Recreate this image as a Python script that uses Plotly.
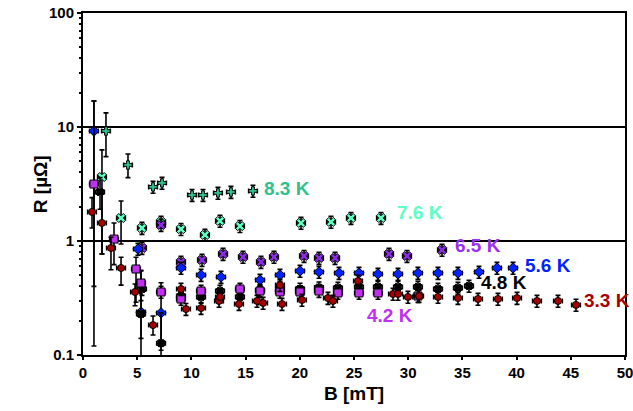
import math
import plotly.graph_objects as go

# ---- data (B in mT, R in micro-ohm) ----
B_33 = [0.83, 1.75, 2.58, 3.51, 4.80, 6.46, 9.04, 9.50, 10.89, 12.55, 12.64, 14.39, 16.05, 16.61, 18.17, 18.36,
        20.20, 22.60, 23.06, 25.37, 28.60, 29.06, 29.98, 31.00, 32.75, 34.59, 36.44, 38.28, 40.04, 41.88, 43.82, 45.48]
R_33 = [1.80, 1.44, 0.868, 0.580, 0.357, 0.183, 0.379, 0.253, 0.258, 0.298, 0.323, 0.280, 0.298, 0.286, 0.411, 0.280,
        0.304, 0.316, 0.298, 0.446, 0.343, 0.343, 0.323, 0.329, 0.323, 0.316, 0.310, 0.310, 0.316, 0.298, 0.298, 0.275]

B_42 = [1.01, 2.86, 4.89, 5.35, 7.20, 9.04, 10.89, 14.48, 16.33, 18.17, 20.02, 21.77, 23.52, 25.46, 27.21, 30.90]
R_42 = [3.16, 1.04, 0.568, 0.428, 0.357, 0.310, 0.364, 0.379, 0.364, 0.357, 0.357, 0.364, 0.350, 0.350, 0.350, 0.329]

B_48 = [1.57, 5.44, 5.35, 7.20, 9.04, 10.89, 12.64, 14.48, 16.33, 18.17, 20.02, 21.77, 23.52, 25.46, 27.21,
        29.06, 30.90, 32.75, 34.59, 35.61]
R_48 = [2.69, 0.379, 0.229, 0.127, 0.329, 0.323, 0.364, 0.323, 0.370, 0.380, 0.380, 0.390, 0.387, 0.395, 0.395,
        0.395, 0.395, 0.379, 0.387, 0.403]

B_56 = [1.01, 5.07, 5.35, 7.20, 9.04, 10.89, 12.73, 16.33, 18.17, 20.02, 21.77, 23.62, 25.46, 27.21, 29.06,
        30.90, 32.75, 34.59, 36.53, 38.19, 39.67]
R_56 = [9.22, 0.851, 0.238, 0.234, 0.580, 0.503, 0.483, 0.455, 0.503, 0.546, 0.535, 0.524, 0.524, 0.514, 0.514,
        0.524, 0.524, 0.524, 0.535, 0.580, 0.580]

B_65 = [5.44, 7.20, 9.04, 10.98, 12.92, 14.76, 16.42, 17.62, 20.39, 21.77, 23.25, 28.23, 29.89, 33.12]
R_65 = [0.868, 1.38, 0.654, 0.681, 0.769, 0.724, 0.654, 0.724, 0.738, 0.709, 0.709, 0.769, 0.738, 0.834]

B_76 = [1.75, 3.51, 5.44, 7.20, 9.04, 11.25, 12.64, 14.48, 20.11, 22.88, 24.72, 27.49]
R_76 = [3.64, 1.59, 1.30, 1.47, 1.27, 1.13, 1.50, 1.35, 1.44, 1.47, 1.59, 1.59]

B_83 = [2.12, 4.15, 6.46, 7.29, 10.06, 11.07, 12.45, 13.65, 15.68]
R_83 = [9.22, 4.64, 2.98, 3.23, 2.53, 2.53, 2.64, 2.69, 2.75]

X_TICKS = [0, 5, 10, 15, 20, 25, 30, 35, 40, 45, 50]
Y_TICKS = [0.1, 1, 10, 100]
Y_TICK_TEXT = ["0.1", "1", "10", "100"]
Y_MINOR = [m * d for d in (0.1, 1, 10) for m in range(2, 10)]

# error bars: default relative error, plus read-off overrides {index: (upper R, lower R)}
REL_ERR = 0.12
B_ERR = 0.4
over_33 = {0: (2.4, 1.3), 1: (2.7, 0.77), 2: (1.08, 0.56), 3: (0.72, 0.41), 4: (0.42, 0.27), 5: (0.22, 0.15)}
over_42 = {0: (16.9, 0.12), 1: (1.44, 0.62), 2: (0.72, 0.29), 3: (0.55, 0.30)}
over_48 = {0: (3.6, 1.9), 2: (0.37, 0.14), 3: (0.234, 0.09)}
over_56 = {0: (16.9, 0.40), 2: (0.55, 0.09), 3: (0.43, 0.11)}
over_76 = {0: (6.3, 0.77), 1: (2.24, 0.94)}
over_83 = {0: (13.3, 5.5), 1: (5.8, 3.6)}

series = [
    ("8.3 K", B_83, R_83, over_83, "cross", "#2fc08c", 7),
    ("7.6 K", B_76, R_76, over_76, "x", "#5dffc0", 8),
    ("6.5 K", B_65, R_65, {}, "x", "#8a2be2", 8),
    ("5.6 K", B_56, R_56, over_56, "diamond", "#0022ff", 8),
    ("4.8 K", B_48, R_48, over_48, "x", "#000000", 7),
    ("4.2 K", B_42, R_42, over_42, "square", "#c030f0", 8),
    ("3.3 K", B_33, R_33, over_33, "circle", "#aa0000", 7),
]

labels = [
    ("8.3 K", 18.8, 2.90, "#2fc08c"),
    ("7.6 K", 31.1, 1.79, "#5dffc0"),
    ("6.5 K", 36.4, 0.92, "#9b30f0"),
    ("5.6 K", 42.9, 0.615, "#0022ff"),
    ("4.8 K", 38.8, 0.436, "#000000"),
    ("3.3 K", 48.3, 0.298, "#aa0000"),
    ("4.2 K", 28.3, 0.220, "#c030f0"),
]

fig = go.Figure()
for name, bx, ry, over, sym, col, size in series:
    up, dn = [], []
    for i, r in enumerate(ry):
        if i in over:
            hi, lo = over[i]
            up.append(hi - r)
            dn.append(r - lo)
        else:
            up.append(r * REL_ERR)
            dn.append(r * REL_ERR)
    fig.add_trace(go.Scatter(
        x=bx, y=ry, mode="markers", name=name,
        marker=dict(symbol=sym, color=col, size=size, line=dict(color="black", width=1)),
        error_y=dict(type="data", symmetric=False, array=up, arrayminus=dn,
                     color="black", thickness=1.6, width=2.5),
        error_x=dict(type="constant", value=B_ERR, color="black", thickness=1.6, width=2.5),
        showlegend=False,
    ))

for txt, x, y, col in labels:
    fig.add_annotation(x=x, y=math.log10(y), text="<b>" + txt + "</b>", showarrow=False,
                       font=dict(size=19, color=col, family="Liberation Sans"),
                       xanchor="center", yanchor="middle")

# axis titles
fig.add_annotation(xref="paper", yref="paper", x=0.5, y=-0.112, text="<b>B [mT]</b>", showarrow=False,
                   font=dict(size=19, family="Liberation Sans", color="black"),
                   xanchor="center", yanchor="middle")
fig.add_annotation(xref="paper", yref="paper", x=-0.079, y=0.5, text="<b>R [µΩ]</b>", showarrow=False,
                   textangle=-90, font=dict(size=19, family="Liberation Sans", color="black"),
                   xanchor="center", yanchor="middle")

fig.update_layout(
    width=633, height=411,
    margin=dict(l=83, r=8, t=13, b=56),
    paper_bgcolor="white", plot_bgcolor="white",
    font=dict(family="Liberation Sans", size=14, color="black"),
    xaxis=dict(range=[0, 50], tickvals=X_TICKS, ticktext=["<b>%d</b>" % v for v in X_TICKS],
               showgrid=False, zeroline=False, automargin=False, ticklabeloverflow="allow",
               showline=True, linecolor="black", linewidth=2, mirror=True,
               ticks="outside", ticklen=3, tickwidth=1.5, tickcolor="black",
               tickfont=dict(size=15, family="Liberation Sans")),
    yaxis=dict(type="log", range=[-1, 2], tickvals=Y_TICKS, ticktext=["<b>%s</b>" % t for t in Y_TICK_TEXT],
               showgrid=True, gridcolor="black", gridwidth=1.5, automargin=False, ticklabeloverflow="allow",
               zeroline=False, showline=True, linecolor="black", linewidth=2, mirror=True,
               ticks="outside", ticklen=4, tickwidth=1.5, tickcolor="black",
               minor=dict(tickvals=Y_MINOR, ticks="outside", ticklen=2, tickcolor="black", showgrid=False),
               tickfont=dict(size=15, family="Liberation Sans")),
)

fig.write_html("out.html")
